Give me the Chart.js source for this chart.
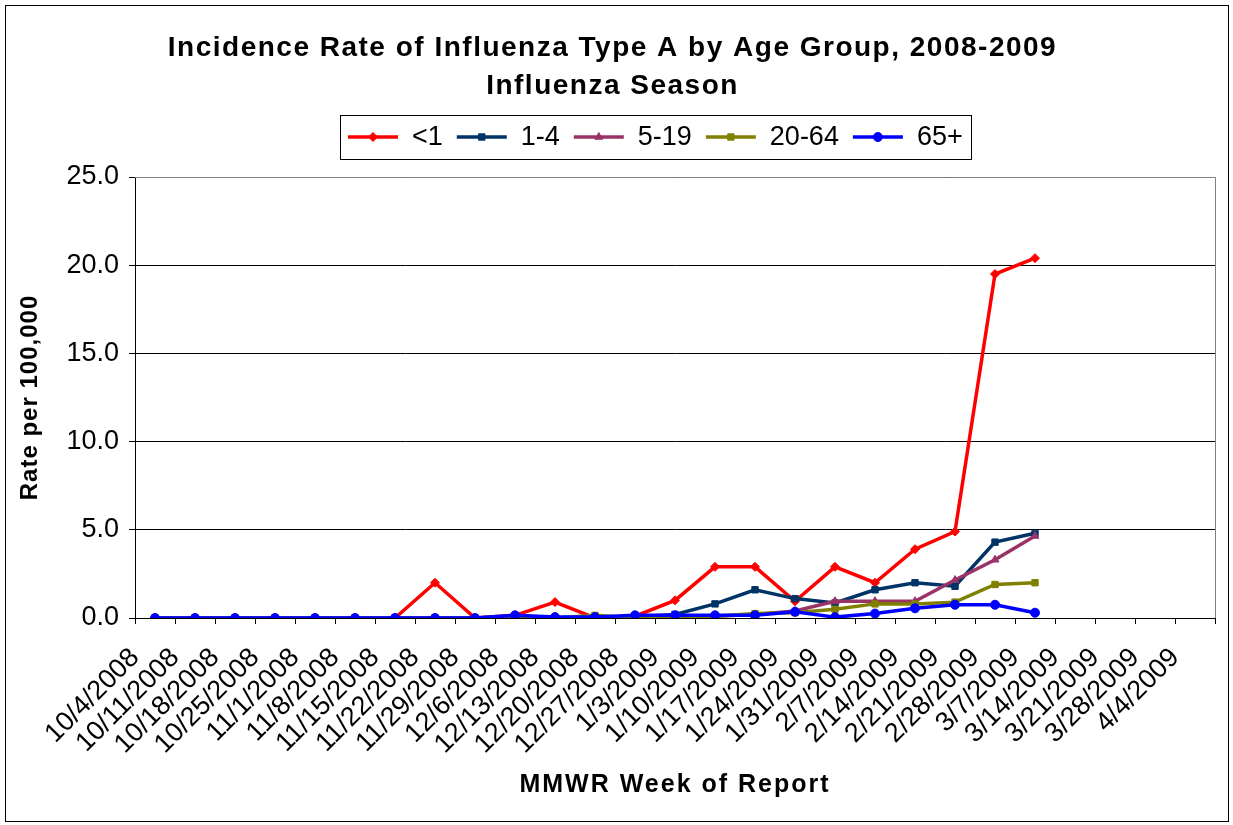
<!DOCTYPE html>
<html>
<head>
<meta charset="utf-8">
<script src="https://cdn.jsdelivr.net/npm/chart.js@4.4.0/dist/chart.umd.min.js"></script>
<style>
  html, body { margin: 0; padding: 0; background: #fff; }
  #wrap { width: 1233px; height: 825px; position: relative; }
</style>
</head>
<body>
<div id="wrap"><canvas id="fluChart" width="1233" height="825"></canvas></div>
<script>
const weeks = ['10/4/2008', '10/11/2008', '10/18/2008', '10/25/2008', '11/1/2008', '11/8/2008', '11/15/2008',
  '11/22/2008', '11/29/2008', '12/6/2008', '12/13/2008', '12/20/2008', '12/27/2008', '1/3/2009', '1/10/2009',
  '1/17/2009', '1/24/2009', '1/31/2009', '2/7/2009', '2/14/2009', '2/21/2009', '2/28/2009', '3/7/2009',
  '3/14/2009', '3/21/2009', '3/28/2009', '4/4/2009'];

const ageUnder1 = [0, 0, 0, 0, 0, 0, 0, 2.0, 0, 0.15, 0.9, 0, 0.1, 1.0, 2.9, 2.9, 0.95, 2.9, 2.0, 3.9, 4.9, 19.5, 20.4];
const age1to4   = [0, 0, 0, 0, 0, 0, 0, 0, 0, 0.1, 0, 0, 0.05, 0.2, 0.8, 1.6, 1.1, 0.85, 1.6, 2.0, 1.8, 4.3, 4.8];
const age5to19  = [0, 0, 0, 0, 0, 0, 0, 0, 0, 0, 0, 0, 0, 0.1, 0.1, 0.2, 0.4, 0.95, 0.95, 0.95, 2.15, 3.3, 4.65];
const age20to64 = [0, 0, 0, 0, 0, 0, 0, 0, 0, 0, 0, 0.15, 0, 0.05, 0.1, 0.25, 0.3, 0.5, 0.8, 0.8, 0.9, 1.9, 2.0];
const age65plus = [0, 0, 0, 0, 0, 0, 0, 0, 0, 0.15, 0.05, 0.05, 0.15, 0.15, 0.15, 0.15, 0.35, 0.05, 0.25, 0.55, 0.75, 0.75, 0.3];

const yTicks = [0, 5, 10, 15, 20, 25];

const FONT = 'Arial, "Liberation Sans", sans-serif';
Chart.defaults.font.family = FONT;
Chart.defaults.color = '#000';

function series(label, data, color, pointStyle, order) {
    return {
        label, data, order, pointStyle,
        borderColor: color, backgroundColor: color,
        pointBackgroundColor: color, pointBorderColor: color,
        borderWidth: 3.5, pointRadius: 4.5, pointBorderWidth: 1, tension: 0
    };
}

// white background, outer frame, grey top/right edge of the plot
const framePlugin = {
    id: 'frame',
    beforeDraw(chart) {
        const ctx = chart.ctx;
        ctx.save();
        ctx.fillStyle = '#fff';
        ctx.fillRect(0, 0, chart.width, chart.height);
        ctx.strokeStyle = '#000';
        ctx.lineWidth = 1;
        ctx.strokeRect(5.5, 5.5, 1223, 816);
        ctx.restore();
    },
    beforeDatasetsDraw(chart) {
        const {ctx, chartArea: a} = chart;
        ctx.save();
        ctx.strokeStyle = '#808080';
        ctx.lineWidth = 1;
        ctx.beginPath();
        ctx.moveTo(a.left, Math.round(a.top) + 0.5);
        ctx.lineTo(Math.round(a.right) + 0.5, Math.round(a.top) + 0.5);
        ctx.lineTo(Math.round(a.right) + 0.5, a.bottom);
        ctx.stroke();
        ctx.restore();
    }
};

// the reference text is drawn a bit wide, so loosen the title lettering slightly
const spacingPlugin = {
    id: 'spacing',
    beforeDraw(chart) {
        const ctx = chart.ctx;
        const wrap = (obj, fn, sp) => {
            if (!obj || typeof obj[fn] !== 'function' || obj[fn]._spaced) return;
            const orig = obj[fn];
            const w = function (...args) {
                const prev = ctx.letterSpacing;
                ctx.letterSpacing = sp;
                const r = orig.apply(this, args);
                ctx.letterSpacing = prev;
                return r;
            };
            w._spaced = true;
            obj[fn] = w;
        };
        wrap(chart.titleBlock, 'draw', '1.5px');
        wrap(chart.scales.x, 'drawTitle', '2px');
        wrap(chart.scales.y, 'drawTitle', '1px');
    }
};

// boxed legend with line + marker samples
const legendBoxPlugin = {
    id: 'legendBox',
    afterDraw(chart) {
        const ctx = chart.ctx;
        const sets = chart.data.datasets;
        const lineLen = 50, gap = 14, pad = 8, top = 115, h = 44, cx = 655;
        ctx.save();
        ctx.font = '27px ' + FONT;
        const widths = sets.map(d => ctx.measureText(d.label).width);
        const total = pad * 2 + sets.length * (lineLen + gap) + widths.reduce((s, w) => s + w, 0) + (sets.length - 1) * gap;
        let x = Math.round(cx - total / 2);
        ctx.strokeStyle = '#000';
        ctx.lineWidth = 1;
        ctx.strokeRect(x + 0.5, top + 0.5, Math.round(total), h);
        x += pad;
        const y = top + h / 2;
        sets.forEach((d, i) => {
            ctx.strokeStyle = d.borderColor;
            ctx.lineWidth = 3.5;
            ctx.beginPath();
            ctx.moveTo(x, y);
            ctx.lineTo(x + lineLen, y);
            ctx.stroke();
            ctx.fillStyle = d.borderColor;
            ctx.lineWidth = 1;
            Chart.helpers.drawPoint(ctx, {pointStyle: d.pointStyle, radius: 4.5, rotation: 0, borderWidth: 1}, x + lineLen / 2, y);
            x += lineLen + gap;
            ctx.fillStyle = '#000';
            ctx.textBaseline = 'middle';
            ctx.textAlign = 'left';
            ctx.fillText(d.label, x, y + 1);
            x += widths[i] + gap;
        });
        ctx.restore();
    }
};

new Chart(document.getElementById('fluChart').getContext('2d'), {
    type: 'line',
    data: {
        labels: weeks,
        datasets: [
            series('<1', ageUnder1, '#FF0000', 'rectRot', 5),
            series('1-4', age1to4, '#003366', 'rect', 4),
            series('5-19', age5to19, '#993366', 'triangle', 3),
            series('20-64', age20to64, '#808000', 'rect', 2),
            series('65+', age65plus, '#0000FF', 'circle', 1)
        ]
    },
    options: {
        responsive: false,
        animation: false,
        layout: { padding: { left: 10, right: 18, top: 0, bottom: 20 } },
        plugins: {
            legend: { display: false },
            tooltip: { enabled: false },
            title: {
                display: true,
                text: ['Incidence Rate of Influenza Type A by Age Group, 2008-2009', 'Influenza Season'],
                color: '#000',
                font: { size: 28, weight: 'bold', lineHeight: '38px' },
                padding: { top: 29, bottom: 72 }
            }
        },
        scales: {
            x: {
                offset: true,
                grid: { offset: true, drawOnChartArea: false, color: '#000', tickLength: 6 },
                border: { color: '#000' },
                ticks: { autoSkip: false, minRotation: 45, maxRotation: 45, labelOffset: -20, padding: 18, font: { size: 27 }, color: '#000' },
                title: { display: true, text: 'MMWR Week of Report', font: { size: 25, weight: 'bold' }, padding: { top: 0, bottom: 5 } },
                afterFit(scale) {
                    scale.height = 187;
                    scale.paddingLeft = 0;
                    scale.paddingRight = 0;
                }
            },
            y: {
                min: 0, max: 25,
                afterBuildTicks(scale) { scale.ticks = yTicks.map(v => ({ value: v })); },
                ticks: { callback: v => Number(v).toFixed(1), font: { size: 27 }, color: '#000', padding: 10 },
                grid: { color: '#000', tickLength: 6 },
                border: { color: '#000' },
                title: { display: true, text: 'Rate per 100,000', font: { size: 24, weight: 'bold' }, padding: { top: 6, bottom: 0 } },
                afterFit(scale) { scale.width = 125; }
            }
        }
    },
    plugins: [framePlugin, spacingPlugin, legendBoxPlugin]
});
</script>
</body>
</html>
